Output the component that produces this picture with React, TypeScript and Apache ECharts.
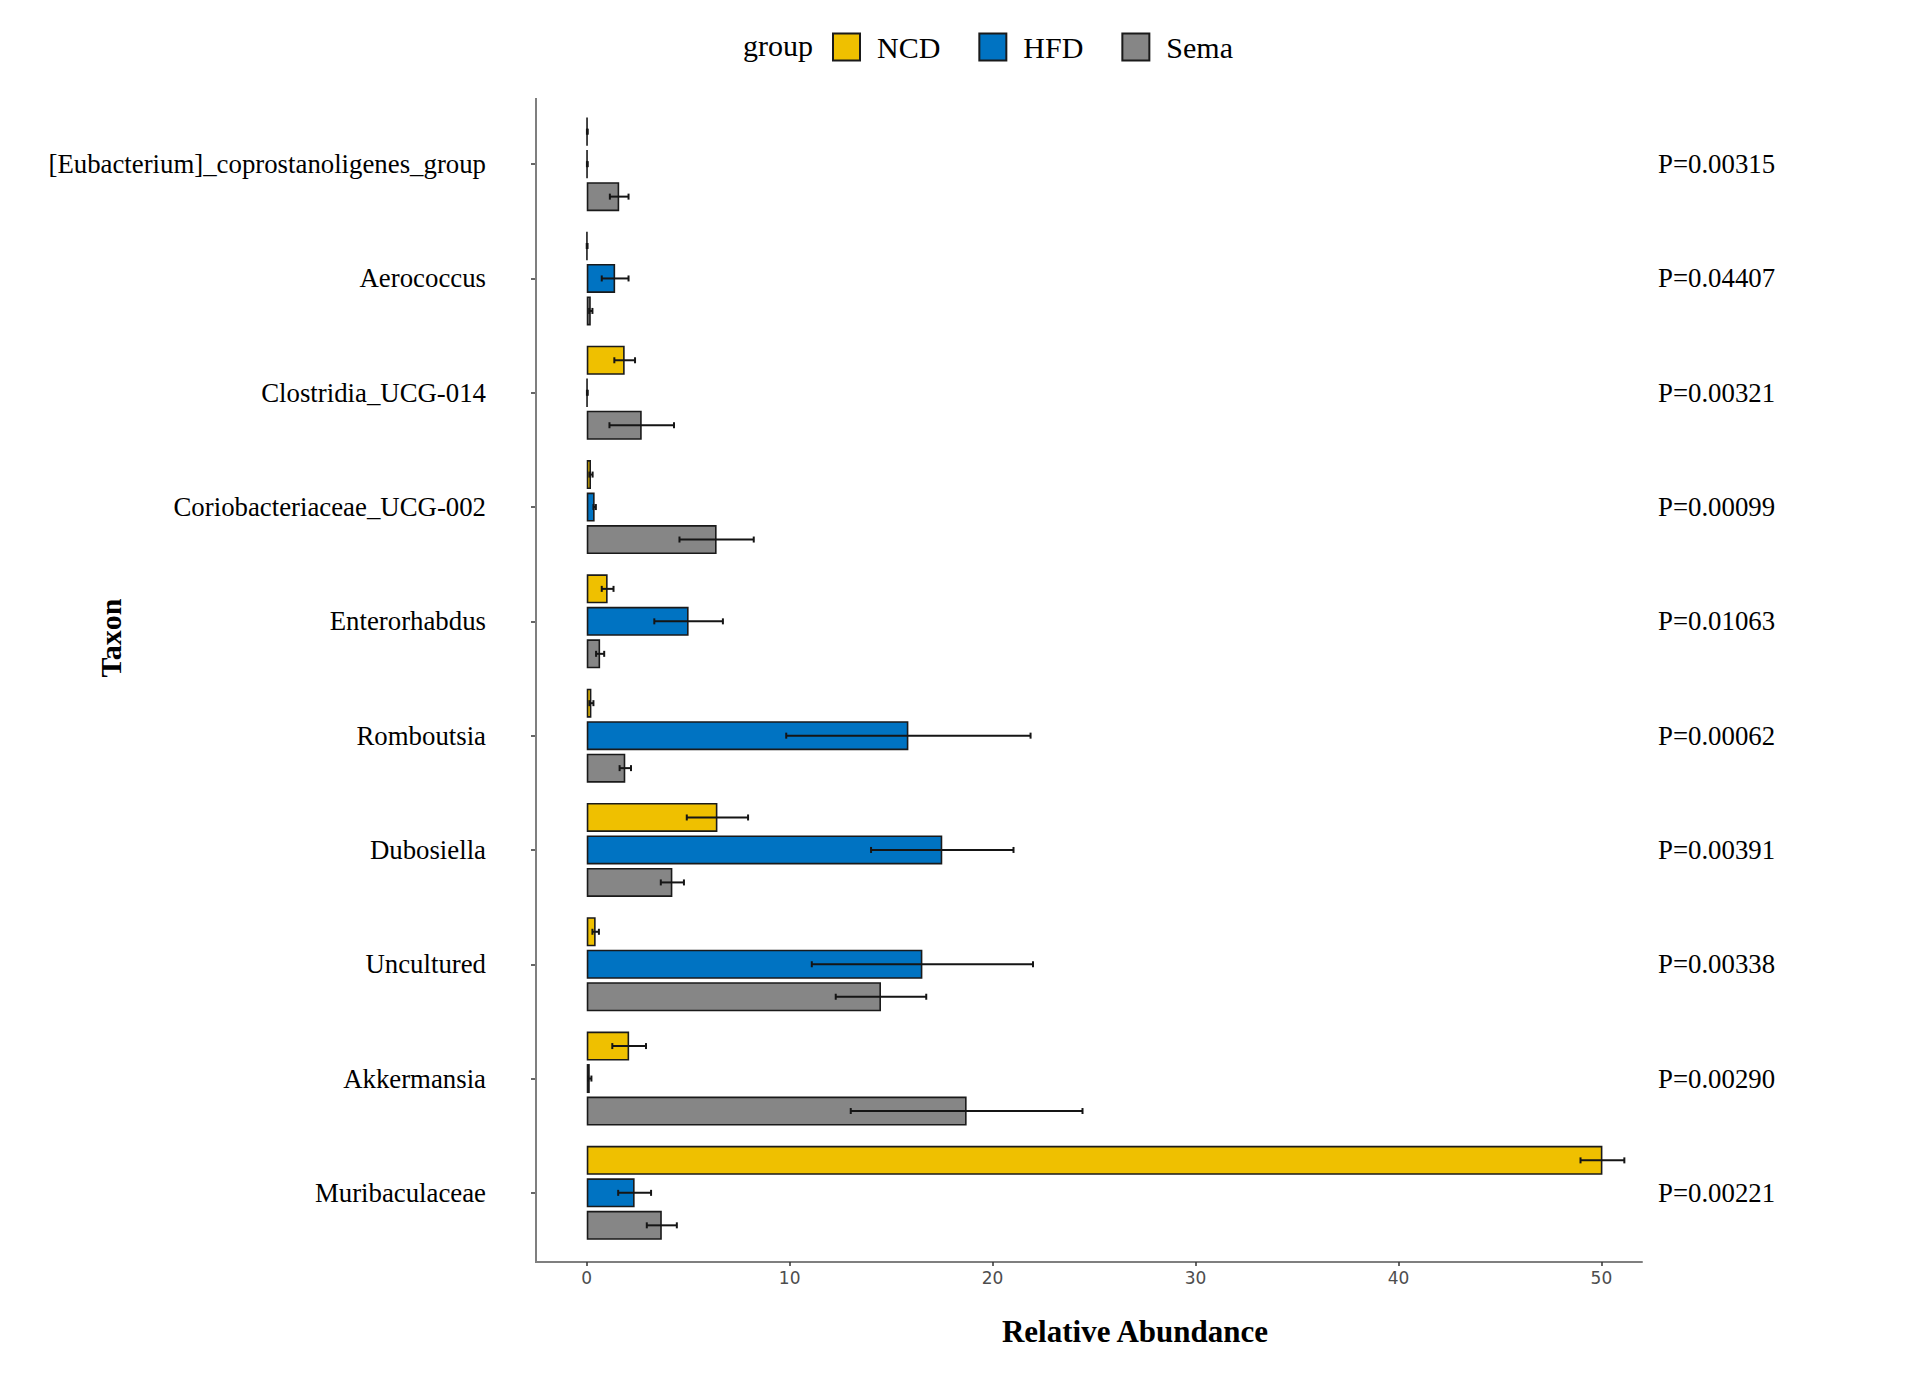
import React, { useEffect, useRef } from "react";
import * as echarts from "echarts";

const CATEGORIES = [
  "[Eubacterium]_coprostanoligenes_group",
  "Aerococcus",
  "Clostridia_UCG-014",
  "Coriobacteriaceae_UCG-002",
  "Enterorhabdus",
  "Romboutsia",
  "Dubosiella",
  "Uncultured",
  "Akkermansia",
  "Muribaculaceae",
];
const P_VALUES = [
  "P=0.00315",
  "P=0.04407",
  "P=0.00321",
  "P=0.00099",
  "P=0.01063",
  "P=0.00062",
  "P=0.00391",
  "P=0.00338",
  "P=0.00290",
  "P=0.00221",
];
const GROUPS = ["NCD", "HFD", "Sema"];
const NCD_MEAN = [0.03, 0.02, 1.87, 0.21, 1.03, 0.23, 6.44, 0.44, 2.09, 50.05];
const NCD_SD = [0.02, 0.02, 0.51, 0.08, 0.29, 0.1, 1.51, 0.16, 0.83, 1.08];
const HFD_MEAN = [0.03, 1.4, 0.03, 0.39, 5.02, 15.85, 17.52, 16.54, 0.15, 2.36];
const HFD_SD = [0.02, 0.66, 0.02, 0.06, 1.69, 6.02, 3.51, 5.45, 0.08, 0.81];
const SEMA_MEAN = [1.6, 0.2, 2.71, 6.4, 0.66, 1.9, 4.22, 14.5, 18.72, 3.7];
const SEMA_SD = [0.46, 0.08, 1.59, 1.83, 0.2, 0.28, 0.57, 2.23, 5.71, 0.74];
const X_TICKS = [0, 10, 20, 30, 40, 50];
const COLORS = ["#EFC000", "#0073C2", "#868686"];

const SERIF = "'Liberation Serif', 'Times New Roman', serif";
const BAR_WIDTH = 29;
const BAR_GAP = 0.12;

export default function App() {
  const ref = useRef<HTMLDivElement>(null);

  useEffect(() => {
    if (!ref.current) return;
    const chart = echarts.init(ref.current, undefined, { renderer: "svg" });
    const means = [NCD_MEAN, HFD_MEAN, SEMA_MEAN];
    const sds = [NCD_SD, HFD_SD, SEMA_SD];

    const barSeries = GROUPS.map((g, gi) => ({
      type: "bar",
      name: g,
      yAxisIndex: 0,
      barWidth: BAR_WIDTH,
      barGap: `${BAR_GAP * 100}%`,
      itemStyle: { color: COLORS[gi], borderColor: "#1a1a1a", borderWidth: 1.6 },
      data: means[gi],
      z: 2,
    }));

    const errSeries = GROUPS.map((g, gi) => {
      const offset = (gi - 1) * BAR_WIDTH * (1 + BAR_GAP);
      return {
        type: "custom",
        name: g + " error",
        yAxisIndex: 0,
        z: 5,
        encode: { x: [1, 2], y: 0 },
        data: CATEGORIES.map((_, i) => [i, means[gi][i], sds[gi][i]]),
        renderItem: (params: any, api: any) => {
          const idx = api.value(0);
          const m = api.value(1);
          const s = api.value(2);
          const p1 = api.coord([m - s, idx]);
          const p2 = api.coord([m + s, idx]);
          const y = p1[1] + offset;
          const cap = 3;
          const st = { stroke: "#151515", lineWidth: 2 };
          return {
            type: "group",
            children: [
              { type: "line", shape: { x1: p1[0], y1: y, x2: p2[0], y2: y }, style: st },
              { type: "line", shape: { x1: p1[0], y1: y - cap, x2: p1[0], y2: y + cap }, style: st },
              { type: "line", shape: { x1: p2[0], y1: y - cap, x2: p2[0], y2: y + cap }, style: st },
            ],
          };
        },
      };
    });

    chart.setOption({
      animation: false,
      backgroundColor: "#ffffff",
      grid: { left: 536, right: 268, top: 107, bottom: 127, containLabel: false },
      legend: {
        data: GROUPS,
        left: 827,
        top: 27,
        itemWidth: 27,
        itemHeight: 27,
        itemGap: 38,
        icon: "rect",
        textStyle: { fontFamily: SERIF, fontSize: 30, color: "#000", padding: [0, 0, 0, 12] },
      },
      xAxis: {
        type: "value",
        min: -2.5,
        max: 52,
        offset: 12,
        splitLine: { show: false },
        axisLine: { show: true, onZero: false, lineStyle: { color: "#7f7f7f", width: 2 } },
        axisTick: { show: true, length: 4, lineStyle: { color: "#333", width: 1.5 }, customValues: X_TICKS },
        axisLabel: { customValues: X_TICKS, fontFamily: "'DejaVu Sans', sans-serif", fontSize: 17, color: "#4d4d4d", margin: 7 },
      },
      yAxis: [
        {
          type: "category",
          data: CATEGORIES,
          inverse: true,
          axisLine: { show: false, onZero: false },
          axisTick: { show: true, length: 5, alignWithLabel: true, lineStyle: { color: "#333", width: 1.5 } },
          axisLabel: { fontFamily: SERIF, fontSize: 26.8, color: "#000", margin: 50 },
        },
        {
          type: "category",
          data: P_VALUES,
          inverse: true,
          position: "right",
          axisLine: { show: false, onZero: false },
          axisTick: { show: false },
          axisLabel: { fontFamily: SERIF, fontSize: 26.8, color: "#000", margin: 16 },
        },
      ],
      graphic: [
        {
          type: "line",
          shape: { x1: 536, y1: 98, x2: 536, y2: 1263 },
          style: { stroke: "#7f7f7f", lineWidth: 2 },
          z: 10,
        },
        {
          type: "text",
          left: 743,
          top: 30,
          style: { text: "group", fontFamily: SERIF, fontSize: 30, fill: "#000" },
        },
        {
          type: "text",
          x: 1135,
          y: 1331,
          style: {
            text: "Relative Abundance",
            fontFamily: SERIF,
            fontSize: 31,
            fontWeight: "bold",
            fill: "#000",
            align: "center",
            verticalAlign: "middle",
          },
        },
        {
          type: "text",
          x: 110,
          y: 638,
          rotation: Math.PI / 2,
          style: {
            text: "Taxon",
            fontFamily: SERIF,
            fontSize: 30,
            fontWeight: "bold",
            fill: "#000",
            align: "center",
            verticalAlign: "middle",
          },
        },
      ],
      series: [...barSeries, ...errSeries],
    });

    return () => chart.dispose();
  }, []);

  return (
    <div
      ref={ref}
      style={{ position: "fixed", left: 0, top: 0, width: 1910, height: 1377, background: "#fff" }}
    />
  );
}
